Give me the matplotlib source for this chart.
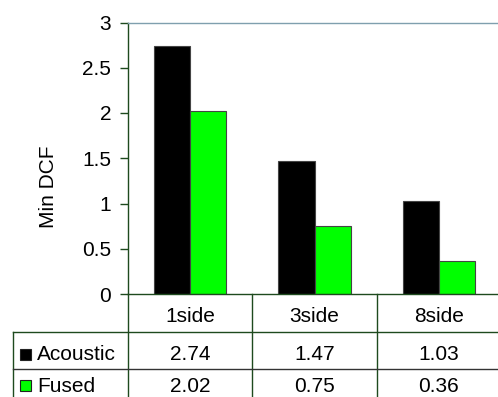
import numpy as np
import matplotlib.pyplot as plt
from matplotlib.patches import Rectangle

plt.rcParams['font.family'] = ['Liberation Sans', 'DejaVu Sans']

# Min DCF per test condition
conditions = ['1side', '3side', '8side']
acoustic = [2.74, 1.47, 1.03]
fused = [2.02, 0.75, 0.36]
series_names = ['Acoustic', 'Fused']
series_colors = ['#000000', '#00ff00']
yticks = [0, 0.5, 1, 1.5, 2, 2.5, 3]
ytick_labels = ['0', '0.5', '1', '1.5', '2', '2.5', '3']

W, H = 498, 397
dark_green = '#1e4a1e'
fs = 15

fig = plt.figure(figsize=(W / 100, H / 100), dpi=100)

# plot area in pixel units: x 128..501, y 22.5..294
ax_l, ax_r, ax_t, ax_b = 128, 501, 22.5, 294
ax = fig.add_axes([ax_l / W, (H - ax_b) / H, (ax_r - ax_l) / W, (ax_b - ax_t) / H])

x = np.arange(len(conditions))
bw = 0.29
ax.bar(x - bw / 2, acoustic, bw, color=series_colors[0], edgecolor='#444444', linewidth=0.8)
ax.bar(x + bw / 2, fused, bw, color=series_colors[1], edgecolor='#444444', linewidth=0.8)

ax.set_xlim(-0.5, len(conditions) - 0.5)
ax.set_ylim(0, 3)
ax.set_yticks(yticks)
ax.set_yticklabels(ytick_labels, fontsize=fs)
ax.set_xticks([])
ax.tick_params(axis='y', length=6, width=1, color=dark_green, pad=6)
ax.spines['left'].set_color(dark_green)
ax.spines['bottom'].set_color(dark_green)
ax.spines['top'].set_color('#7f9fae')
ax.spines['right'].set_visible(False)
for s in ax.spines.values():
    s.set_linewidth(1)

# overlay in pixel coordinates for the data table
ov = fig.add_axes([0, 0, 1, 1], facecolor='none')
ov.set_xlim(0, W)
ov.set_ylim(H, 0)
ov.axis('off')

col_edges = [ax_l + (ax_r - ax_l) * i / len(conditions) for i in range(len(conditions) + 1)]
row_lines = [332, 368.5]
tab_left = 12.5

ov.plot([ax_l, ax_l], [ax_b, H], color=dark_green, lw=1)
for xe in col_edges[1:-1]:
    ov.plot([xe, xe], [ax_b, H], color=dark_green, lw=1)
ov.plot([tab_left, tab_left], [row_lines[0], H], color=dark_green, lw=1)
ov.plot([tab_left, W], [row_lines[0], row_lines[0]], color=dark_green, lw=1)
ov.plot([tab_left, W], [row_lines[1], row_lines[1]], color='#333333', lw=1)

centers = [(col_edges[i] + col_edges[i + 1]) / 2 for i in range(len(conditions))]
for cx, name in zip(centers, conditions):
    ov.text(cx, 322, name, ha='center', va='baseline', fontsize=fs)

baselines = [360, 391.5]
for base, name, color, vals in zip(baselines, series_names, series_colors, [acoustic, fused]):
    ov.add_patch(Rectangle((19.5, base - 11.5), 11, 11, facecolor=color, edgecolor='#222222', lw=0.8))
    ov.text(37, base, name, ha='left', va='baseline', fontsize=fs)
    for cx, v in zip(centers, vals):
        ov.text(cx, base, f'{v:.2f}', ha='center', va='baseline', fontsize=fs)

ov.text(49, 187, 'Min DCF', rotation=90, ha='center', va='center', fontsize=fs)

fig.savefig('out.png', dpi=100)
